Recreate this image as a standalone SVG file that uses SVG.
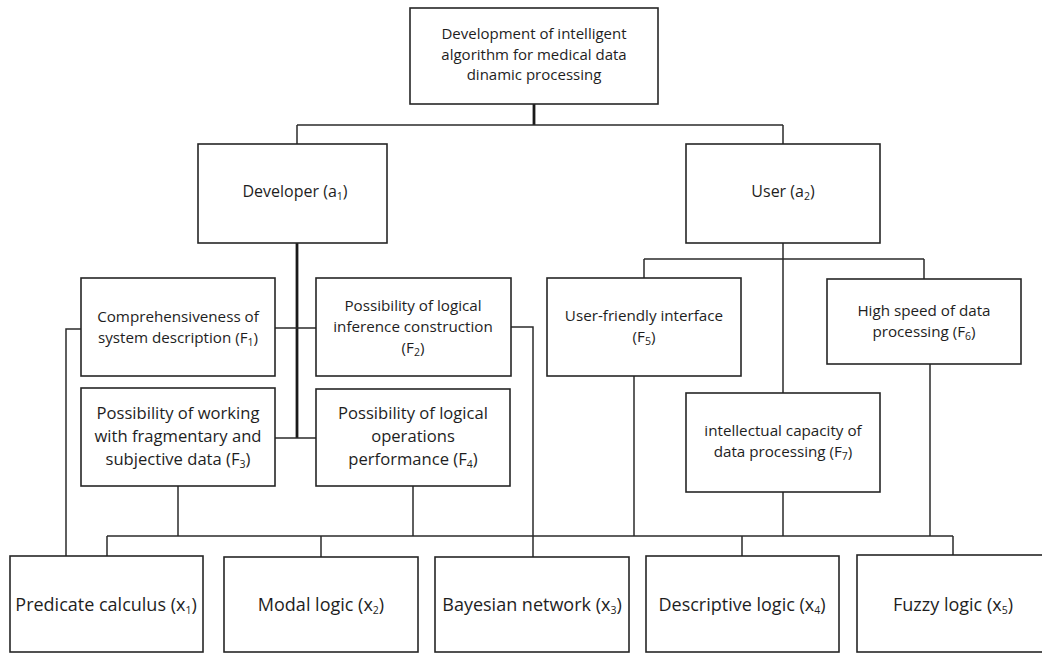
<svg xmlns="http://www.w3.org/2000/svg" width="1042" height="653" viewBox="0 0 1042 653">
<style>
.box{fill:#fff;stroke:#262626;stroke-width:1.6}
.ln{fill:none;stroke:#2b2b2b;stroke-width:1.5}
.thick{fill:none;stroke:#1a1a1a;stroke-width:2.8}
text{font-family:"Open Sans","Noto Sans",sans-serif;fill:#1e1e1e;text-anchor:middle}
.t15{font-size:15px}
.t14{font-size:15.2px}
.t16b{font-size:16px}
.t17{font-size:16.6px}
.t16{font-size:18px}
.sub{font-size:10.5px}
</style>
<rect width="1042" height="653" fill="#fff"/>
<g id="connectors">
  <path class="thick" d="M534 104V125"/>
  <path class="ln" d="M297 125H783M297 125V144M783 125V144"/>
  <path class="thick" d="M297 243V438"/>
  <path class="ln" d="M275 328H316M275 438H316"/>
  <path class="ln" d="M81 329H66V556"/>
  <path class="ln" d="M511 327H533V557"/>
  <path class="ln" d="M783 243V393M644 259H924M644 259V278M924 259V279"/>
  <path class="ln" d="M178 486V536M413 486V536M634 376V536M783 492V536M930 364V536"/>
  <path class="ln" d="M107 536H953M107 536V556M321 536V557M742 536V556M953 536V555"/>
</g>
<g id="root">
  <rect class="box" x="410" y="8" width="248" height="96"/>
  <text class="t15" x="534" y="39">Development of intelligent</text>
  <text class="t15" x="534" y="59.5">algorithm for medical data</text>
  <text class="t15" x="534" y="80">dinamic processing</text>
</g>
<g id="developer">
  <rect class="box" x="198" y="144" width="189" height="99"/>
  <text class="t16b" x="295" y="197">Developer (a<tspan class="sub" dy="3">1</tspan><tspan dy="-3">)</tspan></text>
</g>
<g id="user">
  <rect class="box" x="686" y="144" width="194" height="99"/>
  <text class="t16b" x="783" y="197">User (a<tspan class="sub" dy="3">2</tspan><tspan dy="-3">)</tspan></text>
</g>
<g id="F1">
  <rect class="box" x="81" y="278" width="194" height="98"/>
  <text class="t14" x="178" y="322">Comprehensiveness of</text>
  <text class="t14" x="178" y="343">system description (F<tspan class="sub" dy="3">1</tspan><tspan dy="-3">)</tspan></text>
</g>
<g id="F2">
  <rect class="box" x="316" y="278" width="195" height="98"/>
  <text class="t14" x="413" y="311">Possibility of logical</text>
  <text class="t14" x="413" y="332">inference construction</text>
  <text class="t14" x="413" y="353">(F<tspan class="sub" dy="3">2</tspan><tspan dy="-3">)</tspan></text>
</g>
<g id="F3">
  <rect class="box" x="81" y="388" width="194" height="98"/>
  <text class="t17" x="178" y="418.5">Possibility of working</text>
  <text class="t17" x="178" y="441.5">with fragmentary and</text>
  <text class="t17" x="178" y="464.5">subjective data (F<tspan class="sub" dy="3">3</tspan><tspan dy="-3">)</tspan></text>
</g>
<g id="F4">
  <rect class="box" x="316" y="389" width="194" height="97"/>
  <text class="t17" x="413" y="418.5">Possibility of logical</text>
  <text class="t17" x="413" y="441.5">operations</text>
  <text class="t17" x="413" y="464.5">performance  (F<tspan class="sub" dy="3">4</tspan><tspan dy="-3">)</tspan></text>
</g>
<g id="F5">
  <rect class="box" x="547" y="278" width="194" height="98"/>
  <text class="t14" x="644" y="321">User-friendly interface</text>
  <text class="t14" x="644" y="342">(F<tspan class="sub" dy="3">5</tspan><tspan dy="-3">)</tspan></text>
</g>
<g id="F6">
  <rect class="box" x="827" y="279" width="194" height="85"/>
  <text class="t14" x="924" y="316">High speed of data</text>
  <text class="t14" x="924" y="337">processing (F<tspan class="sub" dy="3">6</tspan><tspan dy="-3">)</tspan></text>
</g>
<g id="F7">
  <rect class="box" x="686" y="393" width="194" height="99"/>
  <text class="t14" x="783" y="436">intellectual capacity of</text>
  <text class="t14" x="783" y="457">data processing (F<tspan class="sub" dy="3">7</tspan><tspan dy="-3">)</tspan></text>
</g>
<g id="x1">
  <rect class="box" x="10" y="556" width="193" height="96"/>
  <text class="t16" x="106" y="611">Predicate calculus (x<tspan class="sub" dy="3">1</tspan><tspan dy="-3">)</tspan></text>
</g>
<g id="x2">
  <rect class="box" x="224" y="557" width="194" height="95"/>
  <text class="t16" x="321" y="611">Modal logic (x<tspan class="sub" dy="3">2</tspan><tspan dy="-3">)</tspan></text>
</g>
<g id="x3">
  <rect class="box" x="435" y="557" width="194" height="95"/>
  <text class="t16" x="532" y="611">Bayesian network (x<tspan class="sub" dy="3">3</tspan><tspan dy="-3">)</tspan></text>
</g>
<g id="x4">
  <rect class="box" x="646" y="556" width="193" height="96"/>
  <text class="t16" x="742" y="611">Descriptive logic (x<tspan class="sub" dy="3">4</tspan><tspan dy="-3">)</tspan></text>
</g>
<g id="x5">
  <rect class="box" x="857" y="555" width="192" height="97"/>
  <text class="t16" x="953" y="611">Fuzzy logic (x<tspan class="sub" dy="3">5</tspan><tspan dy="-3">)</tspan></text>
</g>
</svg>
